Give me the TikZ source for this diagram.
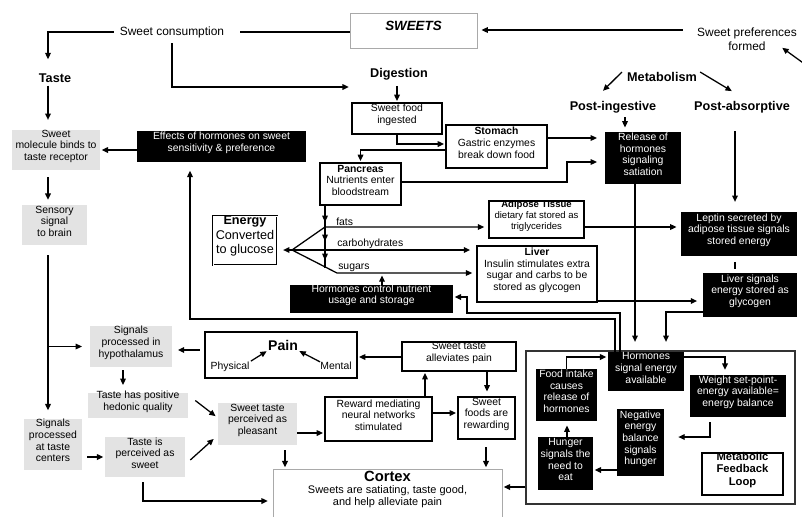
\documentclass[tikz,border=0pt]{standalone}
\usepackage{fontspec}
\setmainfont{Liberation Sans}
\usetikzlibrary{arrows.meta, calc, fit}
\definecolor{boxgray}{HTML}{E3E3E3}
\definecolor{rimgray}{HTML}{A9A9A9}

\begin{document}
\begin{tikzpicture}[x=0.025cm, y=-0.025cm,
    every node/.style={align=center, inner sep=0pt},
    txt/.style={font=\fontsize{7.4}{8.3}\selectfont},
    tinytxt/.style={font=\fontsize{6.8}{7.6}\selectfont},
    lbl/.style={font=\fontsize{8.5}{10}\selectfont},
    head/.style={font=\fontsize{9}{10}\selectfont\bfseries},
    graybox/.style={txt, fill=boxgray},
    whitebox/.style={txt, draw, thick, fill=white},
    blackbox/.style={txt, fill=black, text=white},
    arr/.style={line width=0.9pt, -{Triangle[length=4.5pt, width=4pt]}, shorten >=1pt},
    link/.style={line width=0.9pt}]
  \useasboundingbox (0,0) rectangle (802,516);
  \clip (0,0) rectangle (802,516);
  \fill[white] (0,0) rectangle (802,516);

  % Top row
  \node[draw=rimgray, fit={(350,13) (477,48)}, font=\fontsize{9.5}{11}\selectfont\bfseries\itshape] (sweets) {SWEETS};
  \node[lbl] (consump) at (172,32) {Sweet consumption};
  \node[lbl] (prefs) at (747,39) {Sweet preferences\\formed};
  \node[head] (taste) at (55,78) {Taste};
  \node[head] (digestion) at (399,74) {Digestion};
  \node[head] (metab) at (662,77) {Metabolism};
  \node[head] (postin) at (613,107) {Post-ingestive};
  \node[head] (postab) at (742,107) {Post-absorptive};
  \coordinate (lcol) at (48,0);
  \coordinate (abscol) at (735,0);
  \coordinate (offedge) at (806,65);

  % Left column
  \node[graybox, fit={(12,130) (100,170)}] (molecule) {Sweet\\molecule binds to\\taste receptor};
  \node[graybox, fit={(22,205) (87,245)}] (sensory) {Sensory\\signal\\to brain};
  \node[graybox, fit={(90,326) (172,367)}] (hypo) {Signals\\processed in\\hypothalamus};
  \node[graybox, fit={(88,393) (188,418)}] (hedonic) {Taste has positive\\hedonic quality};
  \node[graybox, fit={(24,419) (82,470)}] (centers) {Signals\\processed\\at taste\\centers};
  \node[graybox, fit={(105,437) (185,477)}] (perceived) {Taste is\\perceived as\\sweet};
  \node[graybox, fit={(218,403) (297,445)}] (pleasant) {Sweet taste\\perceived as\\pleasant};

  % Digestion
  \node[whitebox, fit={(352,103) (442,134)}] (ingested) {Sweet food\\ingested};
  \node[whitebox, fit={(446,125) (547,168)}] (stomach) {\textbf{Stomach}\\Gastric enzymes\\break down food};
  \node[whitebox, fit={(320,163) (401,205)}] (pancreas) {\textbf{Pancreas}\\Nutrients enter\\bloodstream};
  \node[draw, line width=0.7pt, double, double distance=0.7pt, fit={(213,216) (277,265)}, font=\fontsize{9}{10.5}\selectfont] (energy) {\textbf{Energy}\\Converted\\to glucose};
  \node[whitebox, tinytxt, fit={(489,201) (584,238)}] (adipose) {\textbf{Adipose Tissue}\\dietary fat stored as\\triglycerides};
  \node[whitebox, fit={(477,246) (597,302)}] (liver) {\textbf{Liver}\\Insulin stimulates extra\\sugar and carbs to be\\stored as glycogen};
  \node[blackbox, fit={(137,131) (306,162)}] (effects) {Effects of hormones on sweet\\sensitivity \& preference};
  \node[blackbox, fit={(290,285) (453,313)}] (hcontrol) {Hormones control nutrient\\usage and storage};
  \node[txt, anchor=south west] (fatslbl) at (336,226) {fats};
  \node[txt, anchor=south west] (carblbl) at (337,249) {carbohydrates};
  \node[txt, anchor=south west] (sugarlbl) at (338,272) {sugars};

  % Metabolism
  \node[blackbox, fit={(605,132) (681,184)}] (release) {Release of\\hormones\\signaling\\satiation};
  \node[blackbox, fit={(681,212) (797,256)}] (leptin) {Leptin secreted by\\adipose tissue signals\\stored energy};
  \node[blackbox, fit={(703,273) (797,317)}] (liversig) {Liver signals\\energy stored as\\glycogen};

  % Pain and reward
  \node[whitebox, fit={(205,332) (357,378)}] (pain) {};
  \node[font=\fontsize{10}{12}\selectfont\bfseries] (painlbl) at (283,345) {Pain};
  \node[txt] (physical) at (230,367) {Physical};
  \node[txt] (mental) at (336,366) {Mental};
  \node[whitebox, fit={(402,342) (516,371)}] (alleviates) {Sweet taste\\alleviates pain};
  \node[whitebox, fit={(325,397) (432,441)}] (reward) {Reward mediating\\neural networks\\stimulated};
  \node[whitebox, fit={(458,397) (515,439)}] (rewarding) {Sweet\\foods are\\rewarding};
  \node[draw=rimgray, fill=white, fit={(273,469) (502,520)}, font=\fontsize{7.8}{8.8}\selectfont] (cortex) {{\fontsize{10.5}{12.5}\selectfont\bfseries Cortex}\\Sweets are satiating, taste good,\\and help alleviate pain};

  % Metabolic feedback loop
  \node[draw=black!80, thick, fit={(526,351) (795,504)}] (loopframe) {};
  \node[blackbox, fit={(608,352) (684,391)}] (hsignal) {Hormones\\signal energy\\available};
  \node[blackbox, fit={(536,369) (597,421)}] (foodintake) {Food intake\\causes\\release of\\hormones};
  \node[blackbox, fit={(690,375) (786,417)}] (weight) {Weight set-point-\\energy available=\\energy balance};
  \node[blackbox, fit={(617,409) (664,476)}] (negative) {Negative\\energy\\balance\\signals\\hunger};
  \node[blackbox, fit={(538,437) (593,490)}] (hunger) {Hunger\\signals the\\need to\\eat};
  \node[whitebox, fit={(702,453) (783,495)}, font=\fontsize{8}{9}\selectfont\bfseries] (loopname) {Metabolic\\Feedback\\Loop};

  % Connectors, top
  \draw[link] (sweets.west |- consump.east) -- ([xshift=0.4cm]consump.east);
  \draw[arr, shorten <=4pt, shorten >=10pt] (consump.west) -| (taste.north -| lcol);
  \draw[arr, shorten <=4pt, shorten >=15pt] (consump.south) |- (digestion.west |- 0,87);
  \draw[arr, shorten <=10pt, shorten >=3pt] (prefs.west |- 0,30) -- (sweets.east |- 0,30);
  \draw[arr] (offedge) -- ($(prefs.east)+(-16,8)$);

  % Connectors, left column
  \draw[arr, shorten <=2pt, shorten >=7pt] (taste.south -| lcol) -- (molecule.north -| lcol);
  \draw[arr, shorten <=5pt, shorten >=3.5pt] (molecule.south -| lcol) -- (sensory.north -| lcol);
  \draw[arr, shorten <=7pt, shorten >=6pt] (sensory.south -| lcol) -- (centers.north -| lcol);
  \draw[arr, shorten >=5.5pt] (lcol |- hypo.west) -- (hypo.west);
  \draw[arr] (effects.west |- molecule.east) -- (molecule.east);

  % Connectors, digestion
  \draw[arr, shorten <=4pt] (ingested.north |- digestion.south) -- (ingested.north);
  \draw[arr] (ingested.south) |- (stomach.west |- 0,144);
  \draw[arr, shorten >=5.5pt] (stomach.east |- 0,138) -- (release.west |- 0,138);
  \draw[arr] (stomach.west |- 0,150) -| (pancreas.north);
  \draw[arr, shorten >=5.5pt] (pancreas.east |- 0,182) -| (567,162) -- (release.west |- 0,162);
  \coordinate (fork) at (292,250);
  \coordinate (sugarpt) at (382,274);
  \draw[link] (pancreas.south -| 325,0) -- (325,268);
  \foreach \ya/\yb in {205/222, 222/241, 241/260}
    \draw[arr, shorten >=0pt] (325,\ya) -- (325,\yb);
  \draw[arr, shorten >=3pt] (fork) -- (325,227) -- (adipose.west |- 0,227);
  \draw[arr, shorten >=4.5pt] (fork) -- (liver.west |- fork);
  \draw[arr, shorten >=3pt] (fork) -- (337,273) -- (liver.west |- 0,273);
  \draw[arr, shorten >=4pt] (fork) -- (energy.east |- fork);
  \draw[arr, shorten >=3pt] (adipose.east |- 0,227) -- (leptin.west |- 0,227);
  \draw[arr, shorten >=4pt] (liver.east |- 0,301) -- (liversig.west |- 0,301);
  \draw[arr] (hcontrol.north -| sugarpt) -- (sugarpt);

  % Connectors, metabolism
  \draw[arr] ($(metab.west)+(-5,-5)$) -- ($(postin.north)+(-11,-9)$);
  \draw[arr] ($(metab.east)+(3,-5)$) -- ($(postab.north)+(-9,-9)$);
  \draw[arr, shorten <=3pt, shorten >=3pt] (postin.south -| 625,0) -- (release.north -| 625,0);
  \draw[arr, shorten <=13pt, shorten >=7pt] (postab.south -| abscol) -- (leptin.north -| abscol);
  \draw[link, shorten <=4pt, shorten >=3pt] (leptin.south -| abscol) -- (liversig.north -| abscol);
  \draw[arr, shorten >=7pt] (release.south -| 635,0) -- (hsignal.north -| 635,0);
  \draw[arr, shorten >=7pt] (liversig.west |- 0,312) -| (hsignal.north -| 666,0);
  \draw[arr] (hsignal.north -| 620,0) |- (467,313) |- (hcontrol.east |- 0,297);
  \draw[arr, shorten >=6pt] (hsignal.north -| 615,0) |- (190,319) -- (effects.south -| 190,0);

  % Connectors, feedback loop
  \draw[arr] (foodintake.north) |- (hsignal.west |- 0,357);
  \draw[arr, shorten >=3.5pt] (hsignal.east |- 0,357) -| (weight.north -| 725,0);
  \draw[arr, shorten <=3.5pt, shorten >=10pt] (weight.south -| 710,0) |- (negative.east |- 0,437);
  \draw[arr] (negative.west |- 0,470) -- (hunger.east |- 0,470);
  \draw[arr, shorten >=3pt] (hunger.north -| 567,0) -- (foodintake.south -| 567,0);
  \draw[arr] (loopframe.west |- 0,487) -- (cortex.east |- 0,487);

  % Connectors, lower left
  \draw[arr, shorten <=2pt, shorten >=5.5pt] (hypo.south -| 123,0) -- (hedonic.north -| 123,0);
  \draw[arr] ($(hedonic.east)+(7,-5)$) -- ($(pleasant.west)+(-1,-7)$);
  \draw[arr, shorten <=3.5pt] (centers.east |- 0,457) -- (perceived.west |- 0,457);
  \draw[arr] ($(perceived.east)+(5,3)$) -- ($(pleasant.west)+(-3,14)$);
  \draw[arr, shorten <=3.5pt, shorten >=3.5pt] (perceived.south -| 143,0) |- (cortex.west |- 0,501);
  \draw[arr, shorten <=3.5pt] (pleasant.south -| 285,0) -- (cortex.north -| 285,0);
  \draw[arr] (pleasant.east |- 0,433) -- (reward.west |- 0,433);
  \draw[arr] (reward.north -| 425,0) -- (alleviates.south -| 425,0);
  \draw[arr] (reward.east |- 0,413) -- (rewarding.west |- 0,413);
  \draw[arr, shorten >=3.5pt] (alleviates.south -| 487,0) -- (rewarding.north -| 487,0);
  \draw[arr, shorten <=5.5pt] (rewarding.south -| 486,0) -- (cortex.north -| 486,0);
  \draw[arr] (alleviates.west |- 0,357) -- (pain.east |- 0,357);
  \draw[arr, shorten <=3.5pt, shorten >=4pt] (pain.west |- 0,350) -- (hypo.east |- 0,350);
  \draw[arr, shorten <=1pt] (physical.north east) -- (painlbl.south west);
  \draw[arr] (mental.north west) -- (painlbl.south east);
\end{tikzpicture}
\end{document}
